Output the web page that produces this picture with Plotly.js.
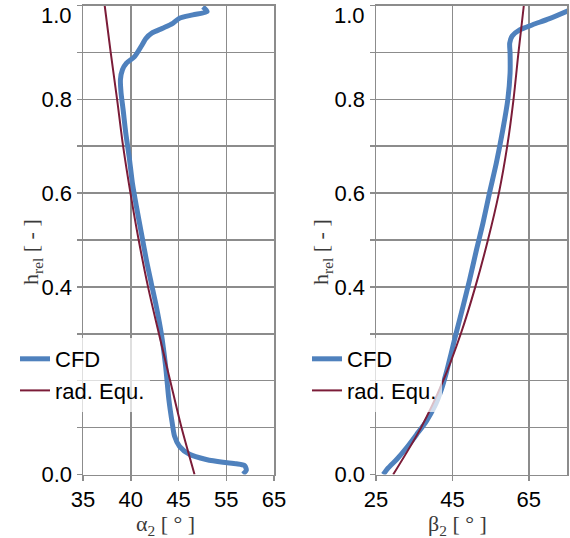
<!DOCTYPE html>
<html>
<head>
<meta charset="utf-8">
<script src="https://cdn.plot.ly/plotly-3.0.1.min.js"></script>
<style>
html,body{margin:0;padding:0;background:#fff;}
#chart{width:570px;height:538px;}
</style>
</head>
<body>
<div id="chart"></div>
<script>
// ---- data ----
// Left panel: alpha_2 [deg] vs h_rel
const hAlphaCFD = [0.997,0.987,0.980,0.973,0.962,0.952,0.941,0.930,0.913,0.891,0.877,0.863,0.842,0.813,0.778,0.728,0.678,0.622,0.572,0.515,0.458,0.408,0.359,0.302,0.231,0.160,0.110,0.082,0.060,0.043,0.032,0.026,0.023,0.019,0.009,0.001];
const alphaCFD  = [50.1,51.0,48.0,45.2,44.4,43.4,42.2,41.6,41.1,40.4,39.55,39.13,38.92,38.99,39.2,39.48,39.83,40.17,40.59,41.11,41.63,42.15,42.67,43.19,43.65,43.99,44.34,44.58,45.21,47.3,50.8,54.3,57.1,58.85,59.2,58.5];
const hAlphaRad = [1.0,0.9,0.8,0.7,0.6,0.5,0.4,0.3,0.2,0.1,0.0];
const alphaRad  = [37.27,37.9,38.57,39.2,39.97,40.83,41.81,42.95,44.13,45.63,48.36];

// Right panel: beta_2 [deg] vs h_rel
const hBetaCFD = [0.0,0.014,0.032,0.057,0.085,0.114,0.146,0.181,0.217,0.259,0.302,0.359,0.415,0.479,0.536,0.600,0.664,0.735,0.799,0.856,0.898,0.920,0.935,0.948,0.959,0.972,0.990];
const betaCFD  = [26.9,28.2,30.4,33.0,35.6,38.2,40.4,42.1,43.4,44.7,46.0,47.8,49.5,51.3,53.0,54.7,56.5,58.2,59.5,60.1,60.1,60.0,60.65,62.6,66.0,70.4,75.6];
const hBetaRad = [1.0,0.9,0.8,0.7,0.6,0.5,0.4,0.3,0.2,0.1,0.0];
const betaRad  = [63.7,62.3,61.0,59.35,57.17,54.3,51.0,47.2,42.6,36.8,29.5];

// ticks
const alphaTicks = [35,40,45,55,65];          // left x-axis labels (evenly spaced on the picture)
const betaTicks  = [25,45,65];
const hTicks     = [0.0,0.2,0.4,0.6,0.8,1.0];
const hTickText  = ['0.0','','0.4','0.6','0.8','1.0'];   // 0.2 is hidden behind the legend
const seriesNames = ['CFD','rad. Equ.'];

// ---- piecewise axis for the left panel (labels 35,40,45,55,65 equally spaced) ----
function alphaPos(v){
  const t = alphaTicks;
  let i = 0;
  while (i < t.length - 2 && v > t[i+1]) i++;
  return i + (v - t[i]) / (t[i+1] - t[i]);
}

const W = 570, H = 538;
const blue = '#4F81BD', red = '#7B1C38', grid = '#8c8c8c';
const tickFont = {family:'"Liberation Sans", Arial, sans-serif', size:22, color:'#000'};
const titleFont = {family:'"Liberation Serif", "Times New Roman", serif', size:22, color:'#3a3a3a'};

const traces = [
  {x: alphaCFD.map(alphaPos), y: hAlphaCFD, xaxis:'x', yaxis:'y', name: seriesNames[0], legend:'legend',
   mode:'lines', line:{color:blue, width:5, shape:'spline', smoothing:0.7}},
  {x: alphaRad.map(alphaPos), y: hAlphaRad, xaxis:'x', yaxis:'y', name: seriesNames[1], legend:'legend',
   mode:'lines', line:{color:red, width:2, shape:'spline', smoothing:0.8}},
  {x: betaCFD, y: hBetaCFD, xaxis:'x2', yaxis:'y2', name: seriesNames[0], legend:'legend2',
   mode:'lines', line:{color:blue, width:5, shape:'spline', smoothing:0.7}},
  {x: betaRad, y: hBetaRad, xaxis:'x2', yaxis:'y2', name: seriesNames[1], legend:'legend2',
   mode:'lines', line:{color:red, width:2, shape:'spline', smoothing:0.8}}
];

const yDom = [(H-474.5)/H, (H-5.5)/H];
function yAxis(anchor){
  return {
    anchor: anchor, domain: yDom, range:[0,1], fixedrange:true,
    tickmode:'array', tickvals: hTicks.slice(0,-1), ticktext: hTickText.slice(0,-1),
    ticks:'outside', ticklen:5, tickwidth:1.5, tickcolor:grid,
    showgrid:true, gridcolor:grid, gridwidth:1.5,
    minor:{dtick:0.1, tick0:0, ticks:'outside', ticklen:5, tickwidth:1.5, tickcolor:grid, showgrid:true, gridcolor:grid, gridwidth:1.5},
    showline:true, linecolor:grid, linewidth:1.5, mirror:true,
    zeroline:false, tickfont: tickFont, automargin:false
  };
}
function xAxisBase(anchor, dom){
  return {
    anchor: anchor, domain: dom, fixedrange:true,
    ticks:'outside', ticklen:5, tickwidth:1.5, tickcolor:grid,
    showgrid:true, gridcolor:grid, gridwidth:1.5,
    showline:true, linecolor:grid, linewidth:1.5, mirror:true,
    zeroline:false, tickfont: tickFont, automargin:false
  };
}

const xa = Object.assign(xAxisBase('y', [83/W, 274/W]), {
  range:[0, alphaTicks.length-1], tickmode:'array',
  tickvals: alphaTicks.map(alphaPos), ticktext: alphaTicks.map(String)
});
const xa2 = Object.assign(xAxisBase('y2', [376/W, 567/W]), {
  range:[25,75], tickmode:'array', tickvals: betaTicks, ticktext: betaTicks.map(String)
});

function legendAt(xpx){
  return {x: xpx/W, y:(H-338)/H, xanchor:'left', yanchor:'top', xref:'paper', yref:'paper',
    bgcolor:'rgba(255,255,255,0.72)', borderwidth:0, font: tickFont,
    itemwidth:30, tracegroupgap:0};
}

const annotations = [
  // top tick label (drawn just below the top edge as in the reference)
  {xref:'paper', yref:'paper', x:83/W, y:(H-5.5)/H, xanchor:'right', yanchor:'middle', xshift:-9, yshift:-10,
   text: hTickText[hTickText.length-1], showarrow:false, font: tickFont},
  {xref:'paper', yref:'paper', x:376/W, y:(H-5.5)/H, xanchor:'right', yanchor:'middle', xshift:-9, yshift:-10,
   text: hTickText[hTickText.length-1], showarrow:false, font: tickFont},
  // axis titles
  {xref:'paper', yref:'paper', x:165/W, y:(H-525)/H, xanchor:'center', yanchor:'middle',
   text:'α<sub>2</sub> [ ° ]', showarrow:false, font: titleFont},
  {xref:'paper', yref:'paper', x:457/W, y:(H-525)/H, xanchor:'center', yanchor:'middle',
   text:'β<sub>2</sub> [ ° ]', showarrow:false, font: titleFont},
  {xref:'paper', yref:'paper', x:32/W, y:(H-252)/H, xanchor:'center', yanchor:'middle', textangle:-90,
   text:'h<sub>rel</sub> [ - ]', showarrow:false, font: titleFont},
  {xref:'paper', yref:'paper', x:322/W, y:(H-252)/H, xanchor:'center', yanchor:'middle', textangle:-90,
   text:'h<sub>rel</sub> [ - ]', showarrow:false, font: titleFont}
];

const layout = {
  width: W, height: H,
  margin:{l:0, r:0, t:0, b:0, pad:0},
  paper_bgcolor:'#fff', plot_bgcolor:'#fff',
  showlegend:true,
  xaxis: xa, yaxis: yAxis('x'),
  xaxis2: xa2, yaxis2: yAxis('x2'),
  legend: legendAt(15),
  legend2: legendAt(307),
  annotations: annotations
};

Plotly.newPlot('chart', traces, layout, {staticPlot:true, displayModeBar:false});
</script>
</body>
</html>
